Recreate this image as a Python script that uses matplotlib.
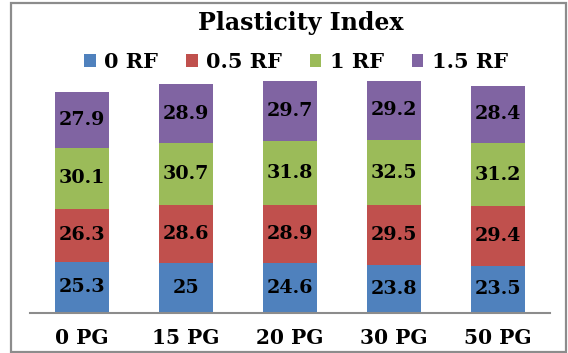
import matplotlib
matplotlib.use("Agg")
import matplotlib.pyplot as plt
from matplotlib.patches import Rectangle
import numpy as np

categories = ["0 PG", "15 PG", "20 PG", "30 PG", "50 PG"]
series_names = ["0 RF", "0.5 RF", "1 RF", "1.5 RF"]
rf_0 = [25.3, 25, 24.6, 23.8, 23.5]
rf_05 = [26.3, 28.6, 28.9, 29.5, 29.4]
rf_1 = [30.1, 30.7, 31.8, 32.5, 31.2]
rf_15 = [27.9, 28.9, 29.7, 29.2, 28.4]
colors = ["#4F81BD", "#C0504D", "#9BBB59", "#8064A2"]

plt.rcParams["font.family"] = ["DejaVu Serif"]
plt.rcParams["font.weight"] = "bold"

W, H = 568, 353
fig = plt.figure(figsize=(W / 100, H / 100), dpi=100)
fig.patch.set_facecolor("white")

# outer chart border
fig.patches.append(Rectangle((11 / W, 1.5 / H), 555 / W, 349 / H,
                             transform=fig.transFigure, fill=False,
                             edgecolor="#8c8c8c", linewidth=1.6))

ax = fig.add_axes([30 / W, 40 / H, 520 / W, 242.4 / H])
x = np.arange(len(categories))
width = 0.51
bottom = np.zeros(len(categories))
handles = []
for vals, name, col in zip([rf_0, rf_05, rf_1, rf_15], series_names, colors):
    vals = np.array(vals)
    bars = ax.bar(x, vals, width, bottom=bottom, color=col, label=name, zorder=2)
    handles.append(bars)
    for xi, b, v in zip(x, bottom, vals):
        ax.text(xi, b + v / 2, f"{v:g}", ha="center", va="center",
                fontsize=13.8, fontweight="bold", color="black", zorder=3)
    bottom += vals

ax.set_xlim(-0.5, len(categories) - 0.5)
ax.set_ylim(0, 120)
ax.set_xticks(x)
ax.set_xticklabels(categories, fontsize=14.5, fontweight="bold")
ax.tick_params(axis="x", length=0, pad=11)
ax.set_yticks([])
for side in ["top", "right", "left"]:
    ax.spines[side].set_visible(False)
ax.spines["bottom"].set_color("#8c8c8c")
ax.spines["bottom"].set_linewidth(1.5)
ax.patch.set_alpha(0)

fig.text(301 / W, 1 - 30 / H, "Plasticity Index", ha="center", va="baseline",
         fontsize=17, fontweight="bold")

fig.legend(handles=handles, labels=series_names, loc="center",
           bbox_to_anchor=(296 / W, 1 - 62 / H), ncol=4, frameon=False,
           prop={"size": 15, "weight": "bold"}, handlelength=0.55,
           handleheight=0.55, handletextpad=0.4, columnspacing=1.35,
           borderpad=0, borderaxespad=0)

fig.savefig("out.png", dpi=100, facecolor="white")
